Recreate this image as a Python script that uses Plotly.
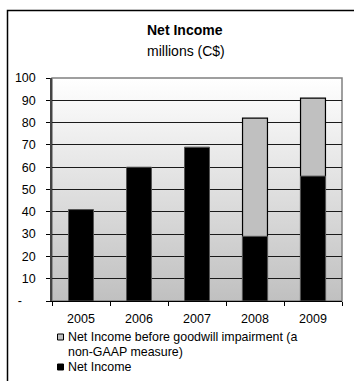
import base64
import plotly.graph_objects as go

# Data (millions C$)
years = ["2005", "2006", "2007", "2008", "2009"]
net_income = [41, 60, 69, 29, 56]
net_income_before_impairment = [None, None, None, 82, 91]
y_ticks = [0, 10, 20, 30, 40, 50, 60, 70, 80, 90, 100]
y_tick_text = ["-\u00a0\u00a0\u00a0\u00a0"] + [str(v) for v in y_ticks[1:]]

W, H = 354, 381
L, R, T, B = 52, 12, 78, 80
PW, PH = W - L - R, H - T - B


def px_x(px):
    return (px - L) / PW


def px_y(py):
    return (H - B - py) / PH


FONT = "Liberation Sans, Arial, sans-serif"

fig = go.Figure()
fig.add_trace(go.Bar(
    x=years, y=net_income_before_impairment,
    name="Net Income before goodwill impairment (a non-GAAP measure)",
    marker=dict(color="#c0c0c0", line=dict(color="#000000", width=1.2)),
    width=0.43,
))
fig.add_trace(go.Bar(
    x=years, y=net_income, name="Net Income",
    marker=dict(color="#000000", line=dict(color="#555555", width=1)),
    width=0.43,
))

# white-to-grey vertical gradient for the plot area
grad_svg = (
    '<svg xmlns="http://www.w3.org/2000/svg" width="100" height="100" preserveAspectRatio="none">'
    '<defs><linearGradient id="g" x1="0" y1="0" x2="0" y2="1">'
    '<stop offset="0" stop-color="#ffffff"/><stop offset="1" stop-color="#c0c0c0"/>'
    '</linearGradient></defs><rect width="100" height="100" fill="url(#g)"/></svg>'
)
grad_uri = "data:image/svg+xml;base64," + base64.b64encode(grad_svg.encode()).decode()

LEG_Y = [337, 352, 367]

shapes = [
    # plot-area frame
    dict(type="rect", xref="paper", yref="paper", x0=0, x1=1, y0=0, y1=1,
         line=dict(color="#808080", width=1.5), layer="below"),
    # outer chart border
    dict(type="rect", xref="paper", yref="paper",
         x0=px_x(7.5), x1=px_x(362), y0=px_y(390), y1=px_y(10.5),
         line=dict(color="#000000", width=1.5)),
    # legend swatches
    dict(type="rect", xref="paper", yref="paper",
         x0=px_x(57.5), x1=px_x(63.5), y0=px_y(LEG_Y[0] + 3), y1=px_y(LEG_Y[0] - 3),
         fillcolor="#c0c0c0", line=dict(color="#000000", width=1)),
    dict(type="rect", xref="paper", yref="paper",
         x0=px_x(57.5), x1=px_x(63.5), y0=px_y(LEG_Y[2] + 3), y1=px_y(LEG_Y[2] - 3),
         fillcolor="#000000", line=dict(color="#000000", width=1)),
]

legend_font = dict(family=FONT, size=12.4, color="#000")
annotations = [
    dict(text="<b>Net Income</b>", x=px_x(185), y=px_y(30), xref="paper", yref="paper",
         showarrow=False, xanchor="center", yanchor="middle",
         font=dict(family=FONT, size=14, color="#000")),
    dict(text="millions (C$)", x=px_x(186), y=px_y(51), xref="paper", yref="paper",
         showarrow=False, xanchor="center", yanchor="middle",
         font=dict(family=FONT, size=14, color="#000")),
    dict(text="Net Income before goodwill impairment (a", x=px_x(66.5), y=px_y(LEG_Y[0]),
         xref="paper", yref="paper", showarrow=False, xanchor="left", yanchor="middle",
         font=legend_font, borderpad=0),
    dict(text="non-GAAP measure)", x=px_x(66.5), y=px_y(LEG_Y[1]),
         xref="paper", yref="paper", showarrow=False, xanchor="left", yanchor="middle",
         font=legend_font, borderpad=0),
    dict(text="Net Income", x=px_x(66.5), y=px_y(LEG_Y[2]),
         xref="paper", yref="paper", showarrow=False, xanchor="left", yanchor="middle",
         font=legend_font, borderpad=0),
]

fig.update_layout(
    width=W, height=H,
    margin=dict(l=L, r=R, t=T, b=B),
    paper_bgcolor="#ffffff",
    plot_bgcolor="rgba(0,0,0,0)",
    barmode="overlay",
    showlegend=False,
    shapes=shapes,
    annotations=annotations,
    images=[dict(source=grad_uri, xref="paper", yref="paper", x=0, y=1,
                 sizex=1, sizey=1, sizing="stretch", xanchor="left", yanchor="top",
                 layer="below")],
    font=dict(family=FONT, size=12, color="#000"),
    xaxis=dict(
        type="category", tickson="boundaries", ticks="outside", ticklen=4,
        tickcolor="#000", showline=True, linecolor="#000", linewidth=1,
        showgrid=False, tickfont=dict(size=12.5), ticklabelstandoff=6,
    ),
    yaxis=dict(
        range=[0, 100], tickvals=y_ticks, ticktext=y_tick_text,
        ticks="outside", ticklen=4, tickcolor="#000",
        showline=True, linecolor="#444", linewidth=1.5,
        showgrid=True, gridcolor="#1a1a1a", gridwidth=1,
        zeroline=False, tickfont=dict(size=12.5), ticklabelstandoff=8,
    ),
)

fig.write_html("out.html")
